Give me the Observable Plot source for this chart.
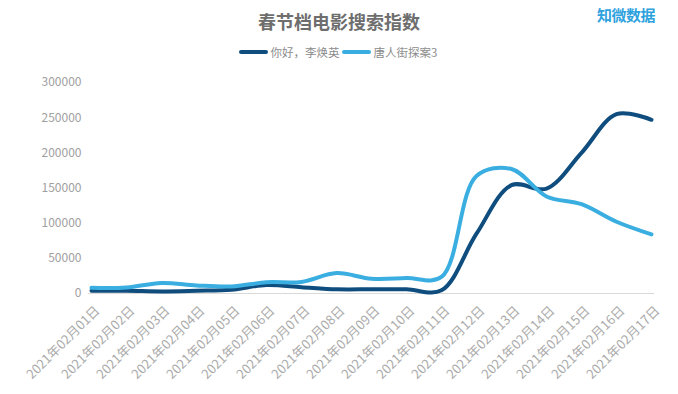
<!DOCTYPE html>
<html>
<head>
<meta charset="utf-8">
<script src="https://cdn.jsdelivr.net/npm/d3@7"></script>
<script src="https://cdn.jsdelivr.net/npm/@observablehq/plot@0.6"></script>
<style>
  body { margin: 0; background: #fff; font-family: "Noto Sans CJK SC", "Noto Sans", sans-serif; }
  #wrap { position: relative; width: 678px; height: 394px; overflow: hidden; }
  #head { position: relative; width: 678px; height: 70px; }
  #title { position: absolute; left: 0; width: 678px; top: 8px; text-align: center; font-size: 18px; font-weight: bold; color: #6e6e6e; line-height: 26px; }
  #brand { position: absolute; left: 597px; top: 5px; font-size: 15px; font-weight: bold; color: #2ea2de; line-height: 20px; letter-spacing: -0.5px; }
  #legend { position: absolute; left: 0; width: 678px; top: 44px; display: flex; justify-content: center; align-items: center; font-size: 11.5px; color: #8c8c8c; line-height: 16px; }
  .sw { display: inline-block; width: 29px; height: 4px; border-radius: 2px; margin-right: 3px; }
  .item { display: flex; align-items: center; margin-right: 2px; }
</style>
</head>
<body>
<div id="wrap">
  <div id="head">
    <div id="title"></div>
    <div id="brand"></div>
    <div id="legend"></div>
  </div>
  <div id="chart"></div>
</div>
<script>
const title = "春节档电影搜索指数";
const brand = "知微数据";
const seriesNames = ["你好，李焕英", "唐人街探案3"];
const seriesColors = ["#0f4d7e", "#3aaee0"];
const dates = ["2021年02月01日","2021年02月02日","2021年02月03日","2021年02月04日","2021年02月05日","2021年02月06日","2021年02月07日","2021年02月08日","2021年02月09日","2021年02月10日","2021年02月11日","2021年02月12日","2021年02月13日","2021年02月14日","2021年02月15日","2021年02月16日","2021年02月17日"];
const helloValues = [4000, 4000, 3000, 4000, 5500, 12000, 9000, 6000, 6000, 6000, 4500, 85000, 154000, 149000, 200000, 255000, 247000];
const tangValues = [8000, 8500, 15000, 11500, 10000, 16000, 16500, 29000, 21000, 22000, 23500, 167000, 177000, 138000, 127000, 102000, 84000];
const yTicks = [0, 50000, 100000, 150000, 200000, 250000, 300000];

document.getElementById("title").textContent = title;
document.getElementById("brand").textContent = brand;
const legend = document.getElementById("legend");
seriesNames.forEach((n, i) => {
  const it = document.createElement("span");
  it.className = "item";
  const sw = document.createElement("span");
  sw.className = "sw";
  sw.style.background = seriesColors[i];
  const t = document.createElement("span");
  t.textContent = n;
  it.appendChild(sw); it.appendChild(t);
  legend.appendChild(it);
});

const data = [];
dates.forEach((d, i) => {
  data.push({date: d, value: helloValues[i], series: seriesNames[0]});
  data.push({date: d, value: tangValues[i], series: seriesNames[1]});
});

const chart = Plot.plot({
  width: 678,
  height: 324,
  marginLeft: 88,
  marginRight: 24,
  marginTop: 12,
  marginBottom: 101,
  style: {fontFamily: "'Noto Sans CJK SC', sans-serif", fontSize: "11px", color: "#a0a0a0", background: "#fff"},
  x: {type: "point", domain: dates, padding: 0},
  y: {domain: [0, 300000]},
  color: {domain: seriesNames, range: seriesColors},
  marks: [
    Plot.axisY({ticks: yTicks, tickSize: 0, tickPadding: 7, tickFormat: d => String(d), label: null, fill: "#a0a0a0", fontSize: 12}),
    Plot.axisX({tickSize: 0, tickPadding: 15, dx: 6, tickRotate: -45, label: null, fill: "#ababab", fontSize: 13}),
    Plot.ruleY([0], {stroke: "#d9d9d9", strokeWidth: 1}),
    Plot.line(data, {x: "date", y: "value", z: "series", stroke: "series", strokeWidth: 4, curve: "catmull-rom", strokeLinecap: "round", strokeLinejoin: "round"})
  ]
});
document.getElementById("chart").appendChild(chart);
</script>
</body>
</html>
